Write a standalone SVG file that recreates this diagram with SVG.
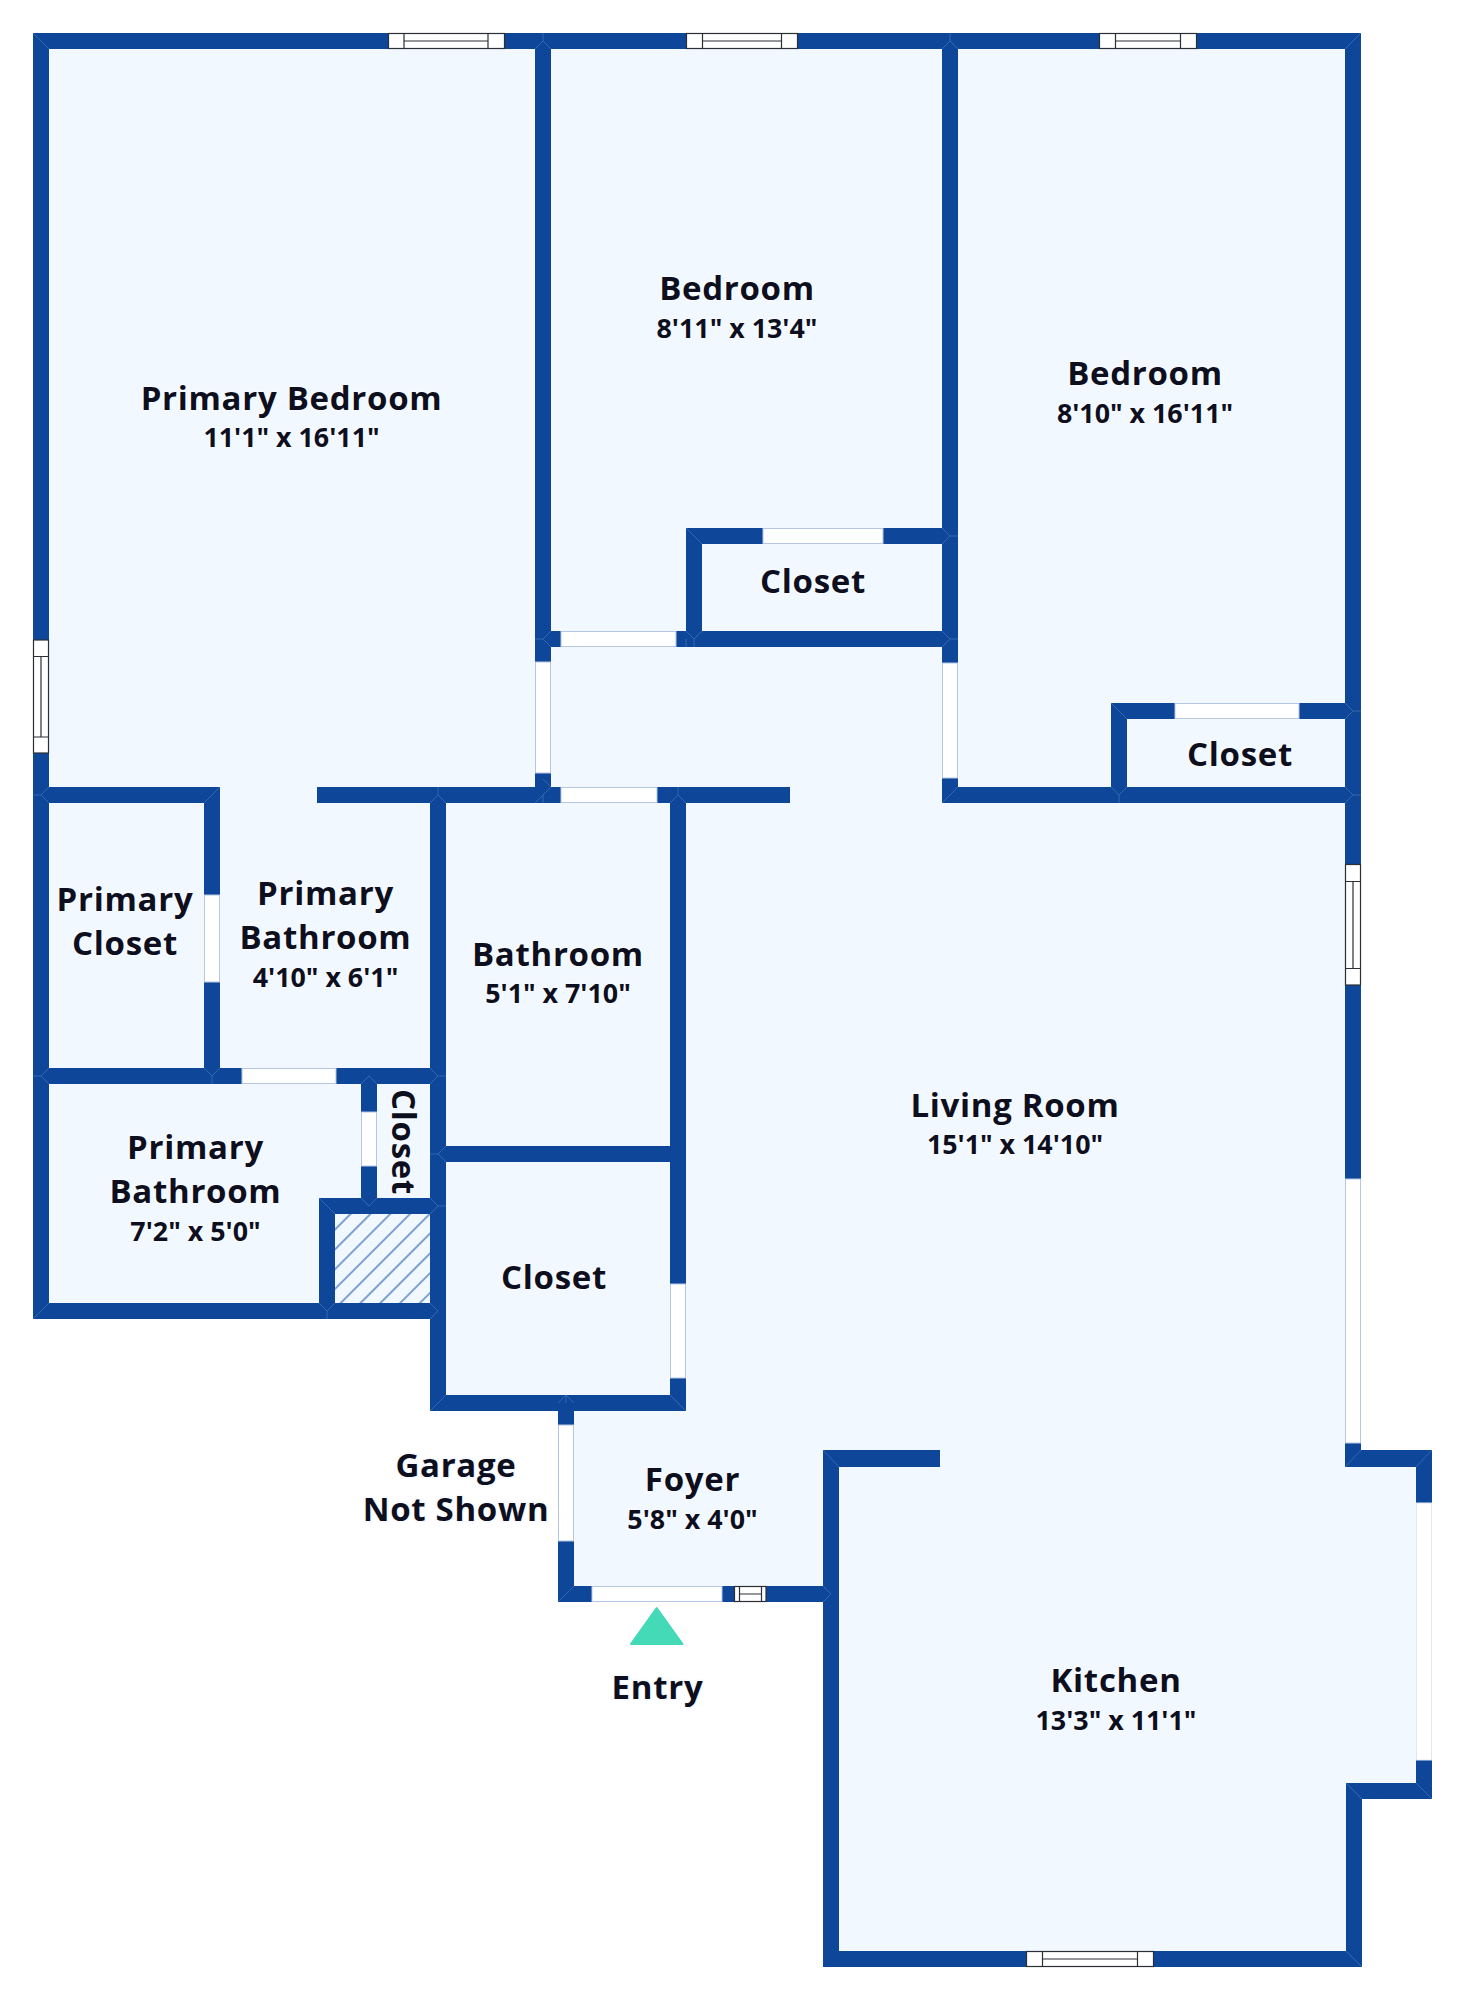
<svg xmlns="http://www.w3.org/2000/svg" width="1465" height="2000" viewBox="0 0 1465 2000">
<style>
.floor{fill:#f1f8ff}
.w{fill:#0e4699}
.d{fill:#fff;stroke:#b4c6e2;stroke-width:1}
.win{fill:#fff;stroke:#2b2f36;stroke-width:1.2}
.m{fill:none;stroke:#3f6fb4;stroke-width:.8}
.n,.s{font-family:"Open Sans","Noto Sans",sans-serif;font-weight:700;fill:#0d0f1e;text-anchor:middle;stroke:#f6faff;stroke-width:3px;paint-order:stroke;stroke-linejoin:round}
.n{font-size:33px;letter-spacing:.7px}
.s{font-size:26.800px}
</style>
<defs>
<pattern id="hatch" width="14" height="14" patternUnits="userSpaceOnUse" patternTransform="rotate(-45 335 1214)">
<rect width="14" height="14" fill="#f1f8ff"/>
<line x1="0" y1="7" x2="14" y2="7" stroke="#3f72b8" stroke-width="1.3"/>
</pattern>
</defs>
<rect width="1465" height="2000" fill="#fff"/>
<g id="floor">
<path class="floor" d="M40 41H1353V1458H1424V1791H1354V1959H831V1594H566V1403H438V1311H40Z"/>
<rect x="335" y="1214" width="95" height="89" fill="url(#hatch)"/>
</g>
<g id="walls">
<rect class="w" x="33" y="33" width="1328" height="16"/>
<rect class="w" x="33" y="33" width="16" height="1286"/>
<rect class="w" x="1345" y="33" width="16" height="1433"/>
<rect class="w" x="1345" y="1450" width="87" height="17"/>
<rect class="w" x="1416" y="1450" width="16" height="349"/>
<rect class="w" x="1346" y="1783" width="86" height="16"/>
<rect class="w" x="1346" y="1783" width="16" height="184"/>
<rect class="w" x="823" y="1951" width="539" height="16"/>
<rect class="w" x="823" y="1450" width="16" height="517"/>
<rect class="w" x="823" y="1450" width="117" height="17"/>
<rect class="w" x="558" y="1586" width="281" height="16"/>
<rect class="w" x="558" y="1403" width="16" height="199"/>
<rect class="w" x="430" y="1395" width="256" height="16"/>
<rect class="w" x="670" y="787" width="16" height="624"/>
<rect class="w" x="430" y="1146" width="256" height="16"/>
<rect class="w" x="430" y="787" width="16" height="624"/>
<rect class="w" x="33" y="787" width="187" height="16"/>
<rect class="w" x="317" y="787" width="473" height="16"/>
<rect class="w" x="535" y="33" width="16" height="770"/>
<rect class="w" x="686" y="528" width="16" height="119"/>
<rect class="w" x="686" y="528" width="272" height="16"/>
<rect class="w" x="535" y="631" width="423" height="16"/>
<rect class="w" x="942" y="33" width="16" height="770"/>
<rect class="w" x="942" y="787" width="419" height="16"/>
<rect class="w" x="1111" y="703" width="16" height="100"/>
<rect class="w" x="1111" y="703" width="250" height="16"/>
<rect class="w" x="204" y="787" width="16" height="297"/>
<rect class="w" x="33" y="1068" width="413" height="16"/>
<rect class="w" x="361" y="1076" width="16" height="130"/>
<rect class="w" x="319" y="1198" width="127" height="16"/>
<rect class="w" x="319" y="1198" width="16" height="121"/>
<rect class="w" x="33" y="1303" width="413" height="16"/>
</g>
<g id="miters">
<path class="m" d="M33 33L49 49M535 49L543 41L551 49M543 41V33M942 49L950 41L958 49M950 41V33M1361 33L1345 49"/>
<path class="m" d="M686 528L702 544M942 544L950 536L942 528M950 536H958M551 631L543 639L551 647M543 639H535M686 631L694 639L702 631M694 639V647M686 639V647M942 631L950 639L942 647M950 639H958"/>
<path class="m" d="M535 803L543 795L551 787M543 795V803M551 787L543 779M670 803L678 795L686 803M678 795V787M942 803L958 787M1111 703L1127 719M1111 787L1119 795L1127 787M1119 795V803M1345 703L1353 711L1345 719M1353 711H1361M1345 787L1353 795L1345 803M1353 795H1361"/>
<path class="m" d="M33 795H41L49 787M41 795L49 803M204 803L220 787M430 803L438 795L446 803M438 795V787M33 1076H41L49 1068M41 1076L49 1084M204 1068L212 1076L220 1068M212 1076V1084M430 1068L438 1076L430 1084M438 1076H446M361 1084L369 1076L377 1084M430 1154L438 1154L446 1146M438 1154L446 1162M430 1198L438 1206L430 1214M438 1206H446M361 1198L369 1206L377 1198M319 1198L335 1214M319 1303L327 1311L335 1303M327 1311V1319M33 1319L49 1303M430 1303L438 1311L430 1319M430 1411L446 1395"/>
<path class="m" d="M670 1395L686 1411M558 1403L566 1395L574 1403M566 1395V1403M558 1602L574 1586M823 1586L831 1594L823 1602M823 1450L839 1467M1345 1467L1361 1450M1432 1450L1416 1467M1416 1783L1432 1799M1346 1783L1362 1799M1346 1951L1362 1967"/>
</g>
<g id="doors">
<rect class="d" x="763" y="528.5" width="120" height="15"/>
<rect class="d" x="561" y="631.5" width="115" height="15"/>
<rect class="d" x="535.5" y="662" width="15" height="111"/>
<rect class="d" x="561" y="787.5" width="96" height="15"/>
<rect class="d" x="942.5" y="663" width="15" height="115"/>
<rect class="d" x="1175" y="703.5" width="124" height="15"/>
<rect class="d" x="204.5" y="895" width="15" height="87"/>
<rect class="d" x="242" y="1068.5" width="94" height="15"/>
<rect class="d" x="361.5" y="1112" width="15" height="54"/>
<rect class="d" x="670.5" y="1284" width="15" height="94"/>
<rect class="d" x="558.5" y="1425" width="15" height="116"/>
<rect class="d" x="592" y="1586.5" width="130" height="15"/>
<rect class="d" x="1345.5" y="1179" width="15" height="264"/>
<rect class="d" x="1416.5" y="1503" width="15" height="257" style="stroke:#dfe7f5"/>
</g>
<g id="windows">
<g><rect class="win" x="388.500" y="33.500" width="116" height="15"/><path class="win" d="M404 33.500V48.500M488 33.500V48.500M404 41H488"/></g>
<g><rect class="win" x="686.500" y="33.500" width="111" height="15"/><path class="win" d="M702.500 33.500V48.500M781.500 33.500V48.500M702.500 41H781.500"/></g>
<g><rect class="win" x="1099.500" y="33.500" width="97" height="15"/><path class="win" d="M1115.500 33.500V48.500M1180.500 33.500V48.500M1115.500 41H1180.500"/></g>
<g><rect class="win" x="33.500" y="640" width="15" height="113"/><path class="win" d="M33.500 656.500H48.500M33.500 737H48.500M41 656.500V737"/></g>
<g><rect class="win" x="1345.500" y="864.500" width="15" height="120.500"/><path class="win" d="M1345.500 881.500H1360.500M1345.500 968.500H1360.500M1353 881.500V968.500"/></g>
<g><rect class="win" x="734.500" y="1586.500" width="31.500" height="15"/><path class="win" d="M739.500 1586.500V1601.500M761.500 1586.500V1601.500M739.500 1594H761.500"/></g>
<g><rect class="win" x="1026.500" y="1951.500" width="127" height="15"/><path class="win" d="M1042.500 1951.500V1966.500M1137.500 1951.500V1966.500M1042.500 1959H1137.500"/></g>
</g>
<g id="entry-marker"><path d="M656.700 1608L682.500 1644H631Z" fill="#44d9b7" stroke="#44d9b7" stroke-width="2" stroke-linejoin="round"/></g>
<g id="primary-bedroom"><text class="n" x="291.500" y="409.500">Primary Bedroom</text><text class="s" x="291.500" y="446.500">11'1" x 16'11"</text></g>
<g id="bedroom-1"><text class="n" x="737" y="300">Bedroom</text><text class="s" x="737" y="337.500">8'11" x 13'4"</text></g>
<g id="bedroom-2"><text class="n" x="1145" y="385">Bedroom</text><text class="s" x="1145" y="422.500">8'10" x 16'11"</text></g>
<g id="closet-1"><text class="n" x="813" y="593">Closet</text></g>
<g id="closet-2"><text class="n" x="1240" y="766">Closet</text></g>
<g id="primary-closet"><text class="n" x="125" y="911">Primary</text><text class="n" x="125" y="955">Closet</text></g>
<g id="primary-bathroom-1"><text class="n" x="325.500" y="905">Primary</text><text class="n" x="325.500" y="949">Bathroom</text><text class="s" x="325.500" y="987">4'10" x 6'1"</text></g>
<g id="primary-bathroom-2"><text class="n" x="195.500" y="1159">Primary</text><text class="n" x="195.500" y="1203">Bathroom</text><text class="s" x="195.500" y="1240.500">7'2" x 5'0"</text></g>
<g id="closet-3"><text class="n" transform="translate(391.500 1142) rotate(90)">Closet</text></g>
<g id="bathroom"><text class="n" x="558" y="966">Bathroom</text><text class="s" x="558" y="1002.500">5'1" x 7'10"</text></g>
<g id="closet-4"><text class="n" x="554" y="1289">Closet</text></g>
<g id="living-room"><text class="n" x="1015" y="1117">Living Room</text><text class="s" x="1015" y="1154">15'1" x 14'10"</text></g>
<g id="garage"><text class="n" x="456" y="1477">Garage</text><text class="n" x="456" y="1521">Not Shown</text></g>
<g id="foyer"><text class="n" x="692.500" y="1491">Foyer</text><text class="s" x="692.500" y="1529">5'8" x 4'0"</text></g>
<g id="entry"><text class="n" x="657.500" y="1699">Entry</text></g>
<g id="kitchen"><text class="n" x="1116" y="1692">Kitchen</text><text class="s" x="1116" y="1730">13'3" x 11'1"</text></g>
</svg>
